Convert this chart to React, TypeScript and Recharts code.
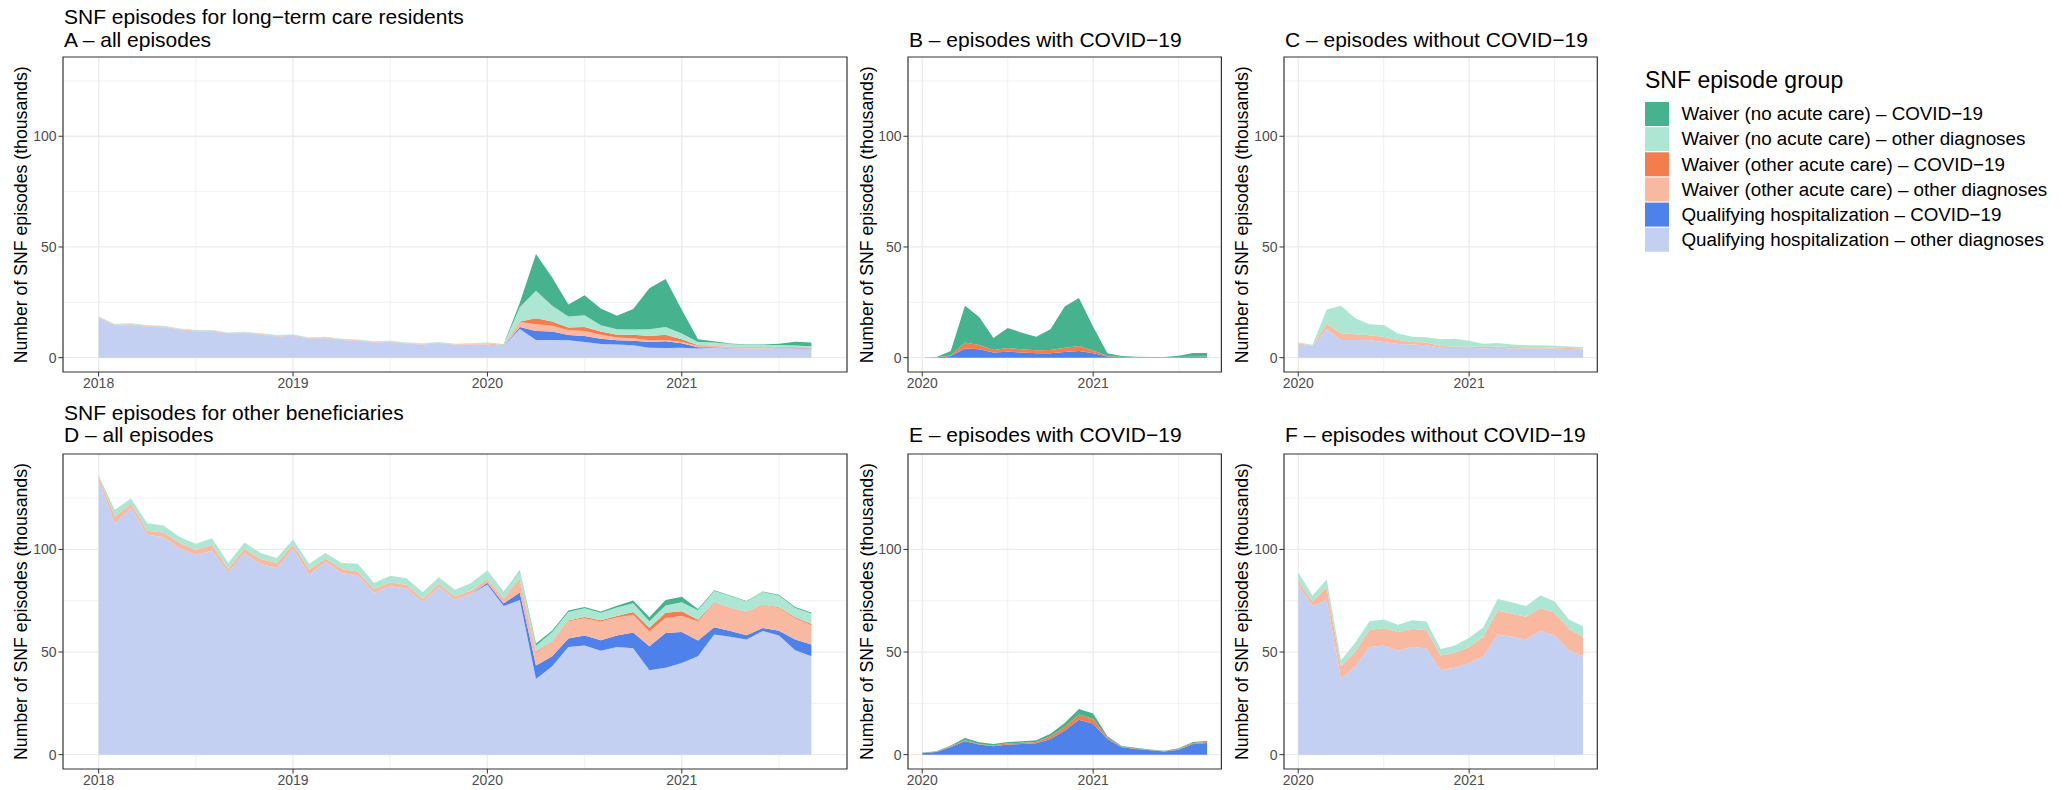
import React from 'react';
import { AreaChart, Area, XAxis, YAxis, CartesianGrid, ReferenceArea } from 'recharts';

const FONT = '"Liberation Sans", Arial, Helvetica, sans-serif';

// ---------- categories ----------
const months = [
  '2018-01','2018-02','2018-03','2018-04','2018-05','2018-06','2018-07','2018-08','2018-09','2018-10','2018-11','2018-12',
  '2019-01','2019-02','2019-03','2019-04','2019-05','2019-06','2019-07','2019-08','2019-09','2019-10','2019-11','2019-12',
  '2020-01','2020-02','2020-03','2020-04','2020-05','2020-06','2020-07','2020-08','2020-09','2020-10','2020-11','2020-12',
  '2021-01','2021-02','2021-03','2021-04','2021-05','2021-06','2021-07','2021-08','2021-09',
];
const covidStart = 24; // index of 2020-01

const yearTicksAll = [0, 12, 24, 36];
const yearLabelsAll = ['2018', '2019', '2020', '2021'];
const midYearAll = [6, 18, 30, 42];
const yearTicksCovid = [0, 12];
const yearLabelsCovid = ['2020', '2021'];
const midYearCovid = [6, 18];
const yTicks = [0, 50, 100];
const yMinor = [25, 75, 125];

// ---------- series: long-term care residents (thousands) ----------
const ltcQualOther = [18.0, 14.5, 14.8, 14.0, 13.7, 12.5, 11.8, 11.8, 10.8, 11.1, 10.4, 9.6, 9.9, 8.5, 8.8, 8.0, 7.6, 6.9, 7.1, 6.3, 6.0, 6.6, 5.8, 6.0,
  6.0, 5.3, 13.0, 8.0, 8.0, 7.9, 7.1, 6.2, 5.9, 5.6, 4.5, 4.4, 4.5, 4.2, 4.5, 4.2, 4.1, 4.1, 4.1, 3.9, 3.8];
const ltcQualCovid = [0, 0, 0, 0, 0, 0, 0, 0, 0, 0, 0, 0, 0, 0, 0, 0, 0, 0, 0, 0, 0, 0, 0, 0,
  0, 0.1, 0.8, 4.1, 3.8, 2.3, 2.7, 2.3, 2.0, 2.0, 2.6, 3.0, 2.0, 0.5, 0.2, 0.1, 0.1, 0.1, 0.2, 0.3, 0.4];
const ltcAcuteOther = [0.3, 0.35, 0.35, 0.35, 0.35, 0.3, 0.35, 0.35, 0.3, 0.3, 0.3, 0.3, 0.3, 0.3, 0.3, 0.3, 0.3, 0.25, 0.25, 0.25, 0.25, 0.25, 0.25, 0.25,
  0.4, 0.2, 2.3, 3.0, 2.6, 2.2, 2.3, 1.8, 1.2, 1.2, 0.8, 0.6, 0.6, 0.6, 0.6, 0.6, 0.6, 0.6, 0.4, 0.5, 0.4];
const ltcAcuteCovid = [0, 0, 0, 0, 0, 0, 0, 0, 0, 0, 0, 0, 0, 0, 0, 0, 0, 0, 0, 0, 0, 0, 0, 0,
  0, 0.1, 0.2, 2.7, 1.9, 1.2, 1.7, 1.5, 1.3, 1.5, 1.9, 2.3, 1.2, 0.3, 0.1, 0.05, 0.05, 0.05, 0.1, 0.1, 0.1];
const ltcNoAcuteOther = [0.3, 0.35, 0.35, 0.35, 0.35, 0.4, 0.35, 0.35, 0.3, 0.3, 0.3, 0.3, 0.3, 0.3, 0.3, 0.3, 0.3, 0.25, 0.25, 0.25, 0.25, 0.25, 0.25, 0.25,
  0.4, 0.3, 6.5, 12.4, 7.2, 5.0, 5.4, 2.9, 2.4, 2.4, 3.0, 3.6, 2.6, 1.5, 1.5, 1.2, 0.9, 0.9, 0.9, 0.7, 0.5];
const ltcNoAcuteCovid = [0, 0, 0, 0, 0, 0, 0, 0, 0, 0, 0, 0, 0, 0, 0, 0, 0, 0, 0, 0, 0, 0, 0, 0,
  0, 0.1, 2.0, 16.6, 12.7, 5.4, 9.0, 7.5, 6.1, 9.3, 18.6, 21.6, 10.8, 1.2, 0.5, 0.3, 0.2, 0.2, 0.6, 1.7, 1.6];

// ---------- series: other beneficiaries (thousands) ----------
const othQualOther = [133.5, 112.8, 120.2, 107.1, 106.0, 100.6, 97.4, 99.4, 88.8, 98.2, 92.9, 90.9, 100.3, 87.7, 94.0, 88.5, 87.4, 78.8, 82.0, 80.9, 74.4, 81.7, 75.5, 78.4,
  82.9, 72.4, 75.3, 36.9, 43.1, 52.5, 53.2, 50.6, 52.5, 51.9, 41.1, 42.3, 44.7, 48.0, 58.5, 57.4, 56.1, 60.2, 58.0, 50.9, 48.0];
const othQualCovid = [0, 0, 0, 0, 0, 0, 0, 0, 0, 0, 0, 0, 0, 0, 0, 0, 0, 0, 0, 0, 0, 0, 0, 0,
  0.8, 1.3, 3.7, 6.5, 4.9, 4.1, 4.9, 5.2, 5.5, 7.6, 11.7, 17.0, 15.1, 7.6, 3.6, 2.8, 2.1, 1.5, 2.4, 5.2, 5.7];
const othAcuteOther = [2.0, 3.2, 2.1, 2.0, 2.3, 2.5, 2.4, 2.7, 1.6, 2.1, 2.4, 2.5, 2.0, 2.5, 1.6, 1.9, 1.9, 1.9, 1.9, 1.9, 1.6, 1.6, 1.6, 1.6,
  1.7, 2.4, 6.0, 6.2, 7.0, 8.4, 8.4, 9.1, 8.8, 8.7, 7.2, 7.3, 7.8, 9.4, 11.7, 11.2, 11.1, 11.3, 11.1, 10.4, 9.4];
const othAcuteCovid = [0, 0, 0, 0, 0, 0, 0, 0, 0, 0, 0, 0, 0, 0, 0, 0, 0, 0, 0, 0, 0, 0, 0, 0,
  0.1, 0.15, 0.4, 0.5, 0.3, 0.4, 0.6, 0.6, 0.7, 1.3, 1.8, 2.5, 2.3, 0.7, 0.3, 0.2, 0.15, 0.15, 0.3, 0.5, 0.5];
const othNoAcuteOther = [0.5, 3.3, 2.5, 3.7, 3.4, 2.9, 3.0, 3.4, 3.0, 3.1, 2.9, 2.4, 2.5, 2.8, 2.7, 3.0, 3.7, 2.9, 3.3, 3.2, 3.1, 3.2, 3.3, 3.6,
  4.3, 2.8, 4.1, 2.9, 4.4, 4.1, 4.2, 3.6, 4.2, 4.3, 3.2, 3.6, 4.4, 4.7, 5.7, 5.7, 5.2, 6.1, 5.7, 4.5, 5.2];
const othNoAcuteCovid = [0, 0, 0, 0, 0, 0, 0, 0, 0, 0, 0, 0, 0, 0, 0, 0, 0, 0, 0, 0, 0, 0, 0, 0,
  0.1, 0.15, 0.3, 1.1, 0.8, 0.7, 0.7, 0.7, 0.8, 1.3, 1.9, 2.7, 2.6, 0.6, 0.3, 0.3, 0.2, 0.2, 0.4, 0.5, 0.5];

// ---------- series meta (stack order bottom -> top) ----------
type SeriesMeta = { key: string; name: string; color: string; covid: boolean };
const seriesMeta: SeriesMeta[] = [
  { key: 'qualOther', name: 'Qualifying hospitalization – other diagnoses', color: '#C3D0F1', covid: false },
  { key: 'qualCovid', name: 'Qualifying hospitalization – COVID−19', color: '#4F81EA', covid: true },
  { key: 'acuteOther', name: 'Waiver (other acute care) – other diagnoses', color: '#F9B8A0', covid: false },
  { key: 'acuteCovid', name: 'Waiver (other acute care) – COVID−19', color: '#F47D4E', covid: true },
  { key: 'noAcuteOther', name: 'Waiver (no acute care) – other diagnoses', color: '#ADE6D3', covid: false },
  { key: 'noAcuteCovid', name: 'Waiver (no acute care) – COVID−19', color: '#47B28E', covid: true },
];

function buildRows(s: Record<string, number[]>) {
  return months.map((m, i) => {
    const row: any = { t: i, month: m };
    Object.keys(s).forEach((k) => (row[k] = s[k][i]));
    return row;
  });
}

const ltcRows = buildRows({
  qualOther: ltcQualOther, qualCovid: ltcQualCovid, acuteOther: ltcAcuteOther,
  acuteCovid: ltcAcuteCovid, noAcuteOther: ltcNoAcuteOther, noAcuteCovid: ltcNoAcuteCovid,
});
const othRows = buildRows({
  qualOther: othQualOther, qualCovid: othQualCovid, acuteOther: othAcuteOther,
  acuteCovid: othAcuteCovid, noAcuteOther: othNoAcuteOther, noAcuteCovid: othNoAcuteCovid,
});
const sinceCovid = (rows: any[]) => rows.slice(covidStart).map((r) => ({ ...r, t: r.t - covidStart }));
const ltcRowsCovid = sinceCovid(ltcRows);
const othRowsCovid = sinceCovid(othRows);

// ---------- layout ----------
const ROW1 = { top: 57.3, h: 315, y: [-6.47, 135.8] as [number, number] };
const ROW2 = { top: 454, h: 315, y: [-7.0, 146.5] as [number, number] };
const COLA = { left: 62.7, w: 784, x: [-2.2, 46.2] as [number, number] };
const COLB = { left: 908.3, w: 313.4, x: [-1, 21] as [number, number] };
const COLC = { left: 1284, w: 313.3, x: [-1, 21] as [number, number] };
const YAXW = 60;

type PanelProps = {
  rows: any[];
  keys: string[];
  col: { left: number; w: number; x: [number, number] };
  row: { top: number; h: number; y: [number, number] };
  xTicks: number[];
  xLabels: string[];
  xMinor: number[];
};

function Panel({ rows, keys, col, row, xTicks, xLabels, xMinor }: PanelProps) {
  const width = YAXW + col.w + 2;
  const height = 2 + row.h + 30;
  const tickStyle = { fill: '#4D4D4D', fontSize: 14, fontFamily: FONT };
  return (
    <div style={{ position: 'absolute', left: col.left - YAXW, top: row.top - 2, width, height }}>
      <AreaChart width={width} height={height} data={rows} margin={{ top: 2, right: 2, left: 0, bottom: 0 }}>
        <CartesianGrid
          horizontalValues={yMinor}
          verticalValues={xMinor}
          stroke="#EBEBEB"
          strokeWidth={0.7}
          strokeDasharray=""
        />
        <CartesianGrid
          horizontalValues={yTicks}
          verticalValues={xTicks}
          stroke="#EBEBEB"
          strokeWidth={1.3}
          strokeDasharray=""
        />
        <XAxis
          type="number"
          dataKey="t"
          domain={col.x}
          allowDataOverflow
          ticks={xTicks}
          tickFormatter={(v: number) => xLabels[xTicks.indexOf(v)] ?? ''}
          height={30}
          tick={tickStyle}
          tickSize={4.5}
          tickMargin={2}
          tickLine={{ stroke: '#333333', strokeWidth: 1 }}
          axisLine={false}
          interval={0}
        />
        <YAxis
          type="number"
          domain={row.y}
          allowDataOverflow
          ticks={yTicks}
          width={YAXW}
          tick={tickStyle}
          tickSize={4.5}
          tickMargin={2}
          tickLine={{ stroke: '#333333', strokeWidth: 1 }}
          axisLine={false}
          interval={0}
        />
        {seriesMeta
          .filter((s) => keys.includes(s.key))
          .map((s) => (
            <Area
              key={s.key}
              type="linear"
              dataKey={s.key}
              stackId="stack"
              fill={s.color}
              fillOpacity={1}
              stroke="none"
              dot={false}
              activeDot={false}
              isAnimationActive={false}
            />
          ))}
        <ReferenceArea
          x1={col.x[0]}
          x2={col.x[1]}
          y1={row.y[0]}
          y2={row.y[1]}
          fill="none"
          fillOpacity={0}
          stroke="#333333"
          strokeWidth={1.2}
        />
      </AreaChart>
    </div>
  );
}

const allKeys = seriesMeta.map((s) => s.key);
const covidKeys = seriesMeta.filter((s) => s.covid).map((s) => s.key);
const otherKeys = seriesMeta.filter((s) => !s.covid).map((s) => s.key);

const yTitle = 'Number of SNF episodes (thousands)';
const legendTitle = 'SNF episode group';
const legendOrder = [...seriesMeta].reverse();

function Texts() {
  const tStyle = { fontFamily: FONT, fontSize: 21, fill: '#000000' } as any;
  const axStyle = { fontFamily: FONT, fontSize: 17.7, fill: '#000000' } as any;
  const yTitles = [
    [COLA, ROW1], [COLB, ROW1], [COLC, ROW1],
    [COLA, ROW2], [COLB, ROW2], [COLC, ROW2],
  ] as const;
  return (
    <svg width={2066} height={790} style={{ position: 'absolute', left: 0, top: 0, pointerEvents: 'none' }}>
      <text x={64} y={24} style={tStyle}>SNF episodes for long−term care residents</text>
      <text x={64} y={46.5} style={tStyle}>A – all episodes</text>
      <text x={909} y={46.5} style={tStyle}>B – episodes with COVID−19</text>
      <text x={1285} y={46.5} style={tStyle}>C – episodes without COVID−19</text>
      <text x={64} y={419.5} style={tStyle}>SNF episodes for other beneficiaries</text>
      <text x={64} y={442} style={tStyle}>D – all episodes</text>
      <text x={909} y={442} style={tStyle}>E – episodes with COVID−19</text>
      <text x={1285} y={442} style={tStyle}>F – episodes without COVID−19</text>
      {yTitles.map(([c, r], i) => (
        <text
          key={i}
          transform={`translate(${c.left - 35.7}, ${r.top + r.h / 2}) rotate(-90)`}
          textAnchor="middle"
          style={axStyle}
        >
          {yTitle}
        </text>
      ))}
      <text x={1645} y={88} style={{ fontFamily: FONT, fontSize: 23, fill: '#000000' }}>{legendTitle}</text>
      {legendOrder.map((s, i) => (
        <g key={s.key}>
          <rect x={1645} y={102 + i * 25.15} width={24} height={24} fill={s.color} />
          <text x={1681.5} y={120.3 + i * 25.15} style={{ fontFamily: FONT, fontSize: 18.8, fill: '#000000' }}>
            {s.name}
          </text>
        </g>
      ))}
    </svg>
  );
}

export default function App() {
  return (
    <div style={{ position: 'absolute', left: 0, top: 0, width: 2066, height: 790, background: '#FFFFFF', overflow: 'hidden' }}>
      <Panel rows={ltcRows} keys={allKeys} col={COLA} row={ROW1} xTicks={yearTicksAll} xLabels={yearLabelsAll} xMinor={midYearAll} />
      <Panel rows={ltcRowsCovid} keys={covidKeys} col={COLB} row={ROW1} xTicks={yearTicksCovid} xLabels={yearLabelsCovid} xMinor={midYearCovid} />
      <Panel rows={ltcRowsCovid} keys={otherKeys} col={COLC} row={ROW1} xTicks={yearTicksCovid} xLabels={yearLabelsCovid} xMinor={midYearCovid} />
      <Panel rows={othRows} keys={allKeys} col={COLA} row={ROW2} xTicks={yearTicksAll} xLabels={yearLabelsAll} xMinor={midYearAll} />
      <Panel rows={othRowsCovid} keys={covidKeys} col={COLB} row={ROW2} xTicks={yearTicksCovid} xLabels={yearLabelsCovid} xMinor={midYearCovid} />
      <Panel rows={othRowsCovid} keys={otherKeys} col={COLC} row={ROW2} xTicks={yearTicksCovid} xLabels={yearLabelsCovid} xMinor={midYearCovid} />
      <Texts />
    </div>
  );
}
